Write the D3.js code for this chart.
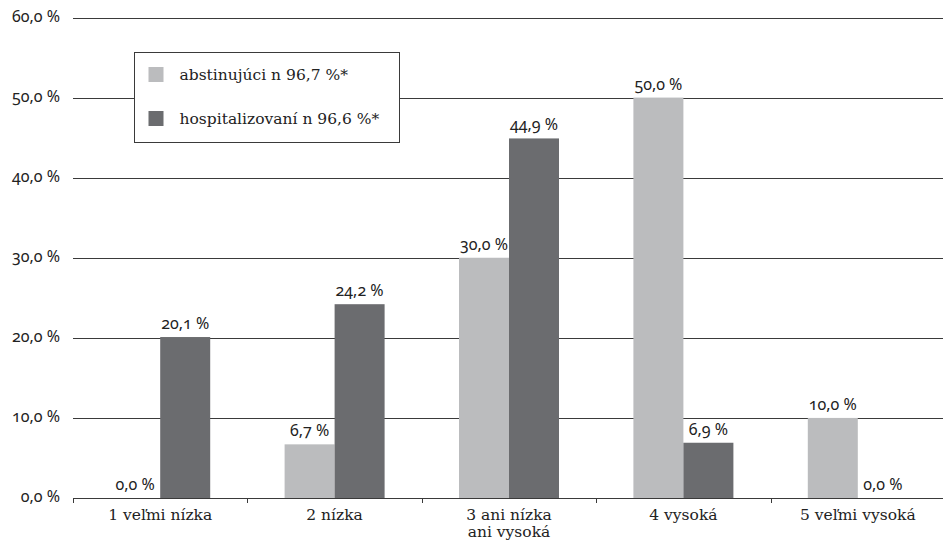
<!DOCTYPE html>
<html>
<head>
<meta charset="utf-8">
<script src="https://cdn.jsdelivr.net/npm/d3@7"></script>
<style>
  html, body { margin: 0; padding: 0; background: #fff; }
  svg { display: block; }
  .num { font-family: "Noto Sans", "Open Sans", sans-serif; font-feature-settings: "onum" 1; font-size: 16px; fill: #222; }
  .cat { font-family: "DejaVu Serif", "Liberation Serif", serif; font-size: 15.5px; fill: #222; }
  .leg { font-family: "DejaVu Serif", "Liberation Serif", serif; font-size: 15.5px; fill: #222; }
</style>
</head>
<body>
<svg id="chart" width="943" height="545"></svg>
<script>
// Categories (rating scale) and the two groups compared
const categories = ["1 veľmi nízka", "2 nízka", "3 ani nízka\nani vysoká", "4 vysoká", "5 veľmi vysoká"];
const seriesNames = ["abstinujúci n 96,7 %*", "hospitalizovaní n 96,6 %*"];
const abstinujuci = [0.0, 6.7, 30.0, 50.0, 10.0];
const hospitalizovani = [20.1, 24.2, 44.9, 6.9, 0.0];
const yTicks = [0, 10, 20, 30, 40, 50, 60];
const colors = ["#bbbcbe", "#6b6c6f"];

const fmt = v => v.toFixed(1).replace(".", ",") + " %";

const svg = d3.select("#chart");
const x0 = 73, x1 = 945, yBottom = 498, yTop = 17.5;

const x = d3.scaleBand().domain(categories).range([x0, x1]).paddingInner(0).paddingOuter(0);
const y = d3.scaleLinear().domain([0, 60]).range([yBottom, yTop]);
const barW = 50;
const xs = d3.scaleBand().domain([0, 1]).range([0, barW * 2]);

// Horizontal gridlines
svg.append("g").selectAll("line").data(yTicks.filter(t => t > 0)).join("line")
  .attr("x1", x0).attr("x2", 943)
  .attr("y1", d => Math.round(y(d)) + 0.5).attr("y2", d => Math.round(y(d)) + 0.5)
  .attr("stroke", "#3a3a3a").attr("stroke-width", 1);

// Y tick labels
svg.append("g").selectAll("text").data(yTicks).join("text")
  .attr("class", "num")
  .attr("x", 60).attr("y", d => y(d) + 4)
  .attr("text-anchor", "end")
  .text(d => fmt(d));

// Bars
const series = [abstinujuci, hospitalizovani];
const groups = svg.append("g").selectAll("g").data(categories).join("g")
  .attr("transform", c => `translate(${x(c) + x.bandwidth() / 2 - barW},0)`);

groups.selectAll("rect").data((c, i) => series.map((s, k) => ({ k, v: s[i] }))).join("rect")
  .attr("x", d => xs(d.k))
  .attr("width", xs.bandwidth())
  .attr("y", d => y(d.v))
  .attr("height", d => yBottom - y(d.v))
  .attr("fill", d => colors[d.k]);

groups.selectAll("text").data((c, i) => series.map((s, k) => ({ k, v: s[i] }))).join("text")
  .attr("class", "num")
  .attr("x", d => xs(d.k) + xs.bandwidth() / 2)
  .attr("y", d => y(d.v) - 8)
  .attr("text-anchor", "middle")
  .text(d => fmt(d.v));

// X axis baseline and ticks
const xAxis = svg.append("g");
xAxis.append("line").attr("x1", x0).attr("x2", 943)
  .attr("y1", yBottom + 0.5).attr("y2", yBottom + 0.5).attr("stroke", "#3a3a3a");
const tickPos = categories.map(c => x(c)).concat([x1]);
xAxis.selectAll("line.tick").data(tickPos).join("line").attr("class", "tick")
  .attr("x1", d => Math.round(d) + 0.5).attr("x2", d => Math.round(d) + 0.5)
  .attr("y1", yBottom).attr("y2", yBottom + 5).attr("stroke", "#3a3a3a");

// Category labels (multi-line allowed)
const catText = xAxis.selectAll("text").data(categories).join("text")
  .attr("class", "cat")
  .attr("text-anchor", "middle")
  .attr("transform", c => `translate(${x(c) + x.bandwidth() / 2},520)`);
catText.selectAll("tspan").data(c => c.split("\n")).join("tspan")
  .attr("x", 0).attr("dy", (d, i) => i === 0 ? 0 : 17)
  .text(d => d);

// Legend box
const leg = svg.append("g").attr("transform", "translate(134.5,52.5)");
leg.append("rect").attr("width", 265).attr("height", 90)
  .attr("fill", "#fff").attr("stroke", "#3a3a3a").attr("stroke-width", 1);
const items = leg.selectAll("g").data(seriesNames).join("g")
  .attr("transform", (d, i) => `translate(14,${14.5 + i * 44})`);
items.append("rect").attr("width", 15).attr("height", 15).attr("fill", (d, i) => colors[i]);
items.append("text").attr("class", "leg").attr("x", 31).attr("y", 13).text(d => d);
</script>
</body>
</html>
